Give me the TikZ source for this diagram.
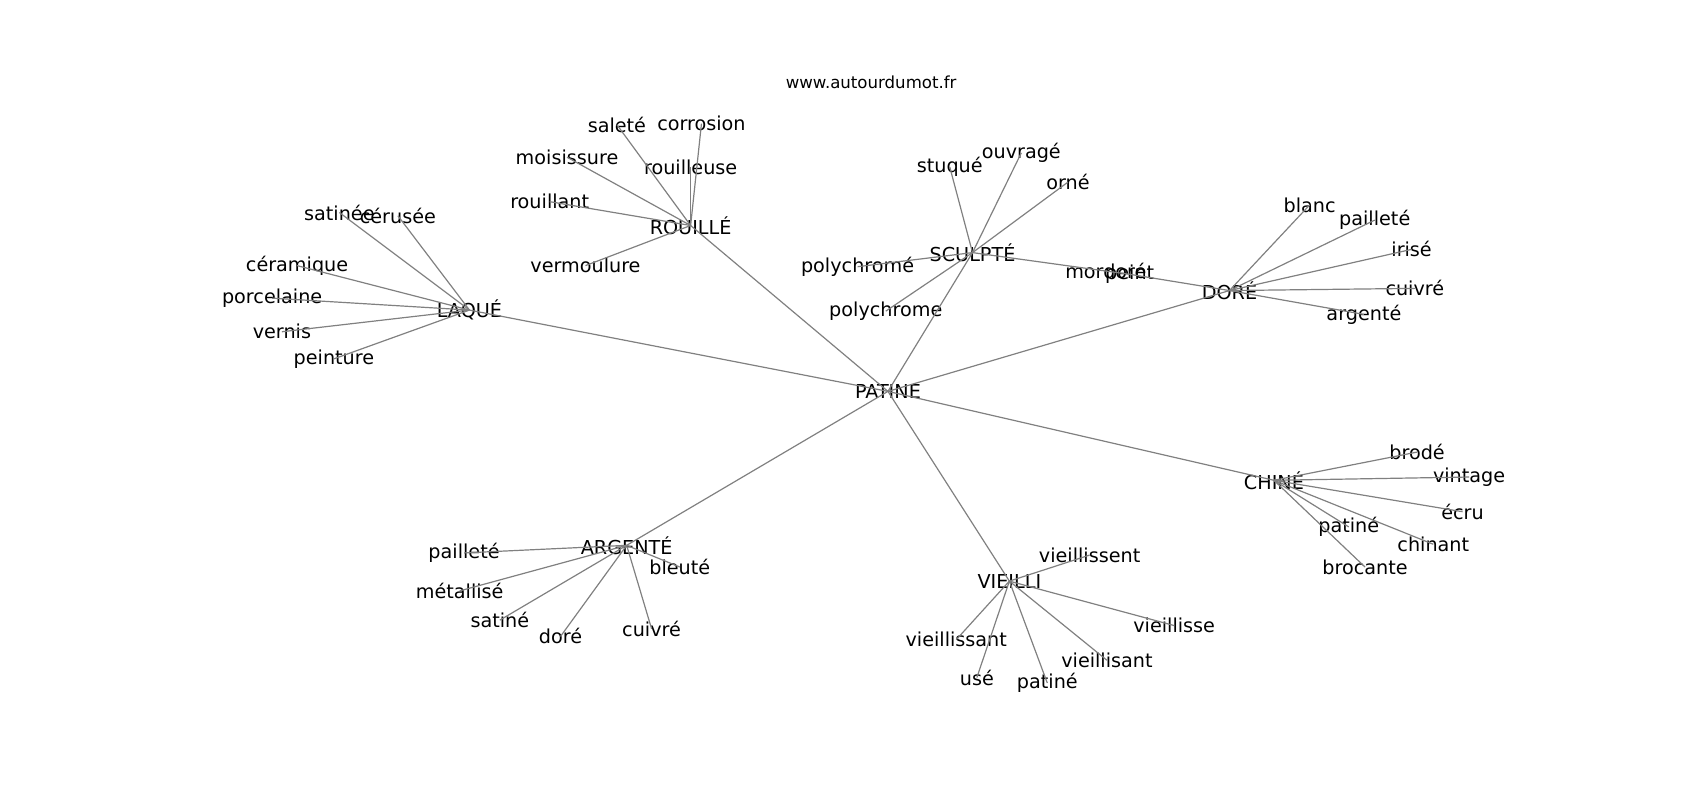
\documentclass[tikz,border=0pt]{standalone}
\usepackage{fontspec}
\setmainfont{DejaVu Sans}
\usepackage{tikz}
\definecolor{edgegray}{RGB}{128,128,128}

\begin{document}
\begin{tikzpicture}[x=0.5421pt, y=-0.5421pt,
  every node/.style={font=\fontsize{9.6}{11}\selectfont, inner sep=0pt},
  edge/.style={draw=edgegray, line width=0.6pt}]

\useasboundingbox (0,0) rectangle (1568,738);

\node (titre) at (803.5,76) {\fontsize{8.3}{10}\selectfont www.autourdumot.fr};

% centre and hubs
\node (patine) at (819,361) {PATINE};
\node (laque) at (433,286) {LAQUÉ};
\node (rouille) at (637,208) {ROUILLÉ};
\node (sculpte) at (897,233) {SCULPTÉ};
\node (dore) at (1134,268) {DORÉ};
\node (chine) at (1175,443) {CHINÉ};
\node (vieilli) at (931,536) {VIEILLI};
\node (argente) at (578,503) {ARGENTÉ};

% LAQUÉ
\node (satinee) at (313,196) {satinée};
\node (ceruse) at (367,199) {cérusée};
\node (ceramique) at (274,245) {céramique};
\node (porcelaine) at (251,275) {porcelaine};
\node (vernis) at (260,306) {vernis};
\node (peinture) at (308,331) {peinture};

% ROUILLÉ
\node (salete) at (569,115) {saleté};
\node (corrosion) at (647,114) {corrosion};
\node (moisissure) at (523,145) {moisissure};
\node (rouilleuse) at (637,154) {rouilleuse};
\node (rouillant) at (507,186) {rouillant};
\node (vermoulure) at (540,245) {vermoulure};

% SCULPTÉ
\node (stuque) at (876,154) {stuqué};
\node (ouvrage) at (942,141) {ouvragé};
\node (orne) at (985,168) {orné};
\node (polychromee) at (791,246) {polychromé};
\node (polychrome) at (817,287) {polychrome};
\node (mordore) at (1020,250) {mordoré};
\node (peint) at (1042,253) {peint};

% DORÉ
\node (blanc) at (1208,189) {blanc};
\node (dpaillete) at (1268,203) {pailleté};
\node (irise) at (1302,230) {irisé};
\node (dcuivre) at (1305,266) {cuivré};
\node (dargente) at (1258,290) {argenté};

% CHINÉ
\node (brode) at (1307,417) {brodé};
\node (vintage) at (1355,440) {vintage};
\node (ecru) at (1349,472) {écru};
\node (cpatine) at (1244,486) {patiné};
\node (chinant) at (1322,502) {chinant};
\node (brocante) at (1259,523) {brocante};

% VIEILLI
\node (vieillissent) at (1005,512) {vieillissent};
\node (vieillisse) at (1083,577) {vieillisse};
\node (vieillissant) at (882,590) {vieillissant};
\node (vieillisant) at (1021,609) {vieillisant};
\node (use) at (901,625) {usé};
\node (vpatine) at (966,630) {patiné};

% ARGENTÉ
\node (apaillete) at (428,510) {pailleté};
\node (metallise) at (424,545) {métallisé};
\node (satine) at (461,572) {satiné};
\node (adore) at (517,587) {doré};
\node (acuivre) at (601,580) {cuivré};
\node (bleute) at (627,523) {bleuté};

% centre to hubs
\draw[edge] (patine.center) -- (laque.center);
\draw[edge] (patine.center) -- (rouille.center);
\draw[edge] (patine.center) -- (sculpte.center);
\draw[edge] (patine.center) -- (dore.center);
\draw[edge] (patine.center) -- (chine.center);
\draw[edge] (patine.center) -- (vieilli.center);
\draw[edge] (patine.center) -- (argente.center);

% hubs to leaves
\draw[edge] (laque.center) -- (satinee.center);
\draw[edge] (laque.center) -- (ceruse.center);
\draw[edge] (laque.center) -- (ceramique.center);
\draw[edge] (laque.center) -- (porcelaine.center);
\draw[edge] (laque.center) -- (vernis.center);
\draw[edge] (laque.center) -- (peinture.center);

\draw[edge] (rouille.center) -- (salete.center);
\draw[edge] (rouille.center) -- (corrosion.center);
\draw[edge] (rouille.center) -- (moisissure.center);
\draw[edge] (rouille.center) -- (rouilleuse.center);
\draw[edge] (rouille.center) -- (rouillant.center);
\draw[edge] (rouille.center) -- (vermoulure.center);

\draw[edge] (sculpte.center) -- (stuque.center);
\draw[edge] (sculpte.center) -- (ouvrage.center);
\draw[edge] (sculpte.center) -- (orne.center);
\draw[edge] (sculpte.center) -- (polychromee.center);
\draw[edge] (sculpte.center) -- (polychrome.center);
\draw[edge] (sculpte.center) -- (mordore.center);
\draw[edge] (mordore.center) -- (peint.center);
\draw[edge] (peint.center) -- (dore.center);

\draw[edge] (dore.center) -- (blanc.center);
\draw[edge] (dore.center) -- (dpaillete.center);
\draw[edge] (dore.center) -- (irise.center);
\draw[edge] (dore.center) -- (dcuivre.center);
\draw[edge] (dore.center) -- (dargente.center);

\draw[edge] (chine.center) -- (brode.center);
\draw[edge] (chine.center) -- (vintage.center);
\draw[edge] (chine.center) -- (ecru.center);
\draw[edge] (chine.center) -- (cpatine.center);
\draw[edge] (chine.center) -- (chinant.center);
\draw[edge] (chine.center) -- (brocante.center);

\draw[edge] (vieilli.center) -- (vieillissent.center);
\draw[edge] (vieilli.center) -- (vieillisse.center);
\draw[edge] (vieilli.center) -- (vieillissant.center);
\draw[edge] (vieilli.center) -- (vieillisant.center);
\draw[edge] (vieilli.center) -- (use.center);
\draw[edge] (vieilli.center) -- (vpatine.center);

\draw[edge] (argente.center) -- (apaillete.center);
\draw[edge] (argente.center) -- (metallise.center);
\draw[edge] (argente.center) -- (satine.center);
\draw[edge] (argente.center) -- (adore.center);
\draw[edge] (argente.center) -- (acuivre.center);
\draw[edge] (argente.center) -- (bleute.center);

\end{tikzpicture}
\end{document}
